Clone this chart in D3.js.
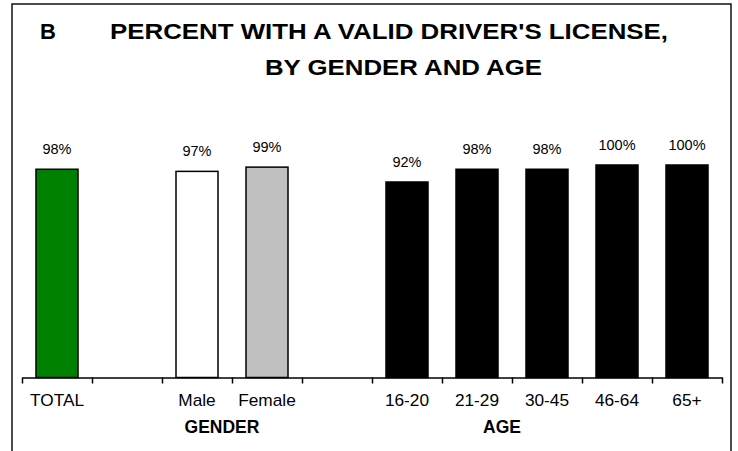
<!DOCTYPE html>
<html>
<head>
<meta charset="utf-8">
<script src="https://cdn.jsdelivr.net/npm/d3@7"></script>
<style>
    body { margin: 0; background: #fff; }
    text { font-family: "Liberation Sans", Arial, sans-serif; fill: #000; }
</style>
</head>
<body>
<div id="chart"></div>
<script>

// chart data
var categories = ["TOTAL", "", "Male", "Female", "", "16-20", "21-29", "30-45", "46-64", "65+"];
var values = [98, null, 97, 99, null, 92, 98, 98, 100, 100];
var groupLabels = ["GENDER", "AGE"];
var groupEdges = [3, 7];
var titleLines = ["PERCENT WITH A VALID DRIVER'S LICENSE,", "BY GENDER AND AGE"];
var panelLetter = "B";

var width = 738,
    height = 451;

var svg = d3.select("#chart")
    .append("svg")
    .attr("width", width)
    .attr("height", height);

svg.append("rect")
    .attr("width", width)
    .attr("height", height)
    .attr("fill", "#fff");

// frame, runs off the bottom of the picture
svg.append("rect")
    .attr("x", 12)
    .attr("y", 4)
    .attr("width", 719)
    .attr("height", 470)
    .attr("fill", "none")
    .attr("stroke", "#111")
    .attr("stroke-width", 1.5);

// title
svg.append("text")
    .attr("x", 40)
    .attr("y", 38.5)
    .attr("font-size", "22px")
    .attr("font-weight", "bold")
    .text(panelLetter);

svg.append("text")
    .attr("x", 110)
    .attr("y", 38.5)
    .attr("font-size", "22px")
    .attr("font-weight", "bold")
    .attr("textLength", 558)
    .attr("lengthAdjust", "spacingAndGlyphs")
    .text(titleLines[0]);

svg.append("text")
    .attr("x", 265)
    .attr("y", 75)
    .attr("font-size", "22px")
    .attr("font-weight", "bold")
    .attr("textLength", 277)
    .attr("lengthAdjust", "spacingAndGlyphs")
    .text(titleLines[1]);

// scales
var axisY = 377.5,
    left = 22,
    right = 722;

var xScale = d3.scaleBand()
    .domain(d3.range(categories.length))
    .range([left, right])
    .paddingInner(0.4)
    .paddingOuter(0.2);

var edgeScale = d3.scaleLinear()
    .domain([0, categories.length])
    .range([left, right]);

var yScale = d3.scaleLinear()
    .domain([0, 100])
    .range([axisY, 165]);

var fillFor = { "TOTAL": "#008000", "Male": "#ffffff", "Female": "#c0c0c0" };

// bars
var data = categories.map(function(c, i) {
    return { id: i, label: c, value: values[i] };
}).filter(function(d) { return d.value !== null; });

svg.selectAll("rect.bar")
    .data(data)
    .enter()
    .append("rect")
    .attr("class", "bar")
    .attr("x", function(d) { return xScale(d.id); })
    .attr("width", xScale.bandwidth())
    .attr("y", function(d) { return yScale(d.value); })
    .attr("height", function(d) { return axisY - yScale(d.value); })
    .attr("fill", function(d) { return fillFor[d.label] || "#000"; })
    .attr("stroke", "#000")
    .attr("stroke-width", 1.5);

// value labels
svg.selectAll("text.label")
    .data(data)
    .enter()
    .append("text")
    .attr("class", "label")
    .attr("x", function(d) { return xScale(d.id) + xScale.bandwidth() / 2; })
    .attr("y", function(d) { return yScale(d.value) - 15; })
    .attr("text-anchor", "middle")
    .attr("font-size", "14.5px")
    .text(function(d) { return d.value + "%"; });

// axis line with ticks between categories
var edgeAxis = d3.axisBottom(edgeScale)
    .tickValues(d3.range(categories.length + 1))
    .tickSizeInner(6)
    .tickSizeOuter(0)
    .tickFormat("");

var edgeG = svg.append("g")
    .attr("transform", "translate(0," + axisY + ")")
    .call(edgeAxis);
edgeG.selectAll("path, line")
    .attr("stroke", "#000")
    .attr("stroke-width", 1.5);

// category labels
var labelAxis = d3.axisBottom(xScale)
    .tickSize(0)
    .tickPadding(17)
    .tickFormat(function(i) { return categories[i]; });

var labelG = svg.append("g")
    .attr("transform", "translate(0," + axisY + ")")
    .call(labelAxis);
labelG.select(".domain").remove();
labelG.selectAll("text")
    .attr("font-size", "16px")
    .attr("font-family", "Liberation Sans, Arial, sans-serif")
    .attr("fill", "#000")
    .attr("transform", "scale(1.08,1)")
    .attr("x", function() {
        return 0;
    });
// keep the scaled label centred on its tick
labelG.selectAll(".tick")
    .attr("transform", function(i) {
        return "translate(" + (xScale(i) + xScale.bandwidth() / 2) + ",0)";
    });

// group labels
svg.selectAll("text.group")
    .data(groupLabels)
    .enter()
    .append("text")
    .attr("class", "group")
    .attr("x", function(d, i) { return edgeScale(groupEdges[i]) - 10; })
    .attr("y", 433)
    .attr("text-anchor", "middle")
    .attr("font-size", "17.5px")
    .attr("font-weight", "bold")
    .text(function(d) { return d; });

</script>
</body>
</html>
